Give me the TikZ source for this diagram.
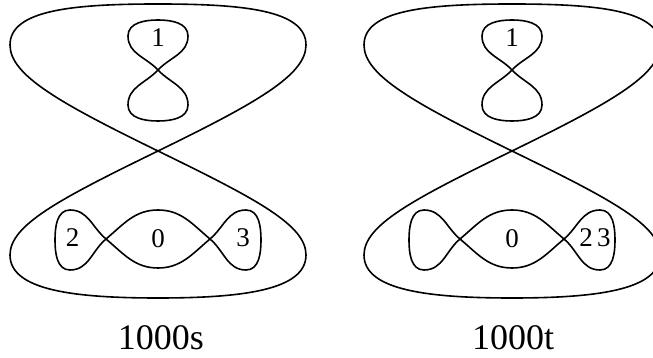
\documentclass[tikz,border=0pt]{standalone}
\usepackage{fontspec}
\setmainfont{Liberation Serif}
\usetikzlibrary{positioning}

\tikzset{
  curve/.style={black, line width=1.6pt, line join=round},
  lbl/.style={inner sep=0pt, font=\fontsize{27}{27}\selectfont},
  caption/.style={inner sep=0pt, anchor=base, font=\fontsize{36}{36}\selectfont}
}

\begin{document}
\begin{tikzpicture}[x=1pt, y=1pt]
\useasboundingbox (0,0) rectangle (653,358);
\clip (0,0) rectangle (653,358);

\foreach \cx in {158,512} {
\begin{scope}[shift={(\cx,207)}]
% big figure eight
\draw[curve] (0,0) .. controls +(26:110) and +(-90:30) .. (148,106)
  .. controls +(90:35) and +(0:85) .. (0,147)
  .. controls +(180:85) and +(90:35) .. (-148,106)
  .. controls +(-90:30) and +(154:110) .. (0,0)
  .. controls +(-26:110) and +(90:30) .. (148,-104)
  .. controls +(-90:35) and +(0:85) .. (0,-147)
  .. controls +(180:85) and +(-90:35) .. (-148,-104)
  .. controls +(90:30) and +(-154:110) .. (0,0);
% small eight in the upper lobe
\draw[curve] (0,81) to[out=47,in=-90] (30,115) to[out=90,in=0] (0,131)
  to[out=180,in=90] (-30,115) to[out=-90,in=133] (0,81)
  to[out=-47,in=90] (30,46) to[out=-90,in=0] (0,30)
  to[out=180,in=-90] (-30,46) to[out=90,in=-133] (0,81);
% chain of three lobes in the lower lobe
\draw[curve] (-52,-88) to[out=40,in=180] (0,-59) to[out=0,in=140] (52,-88)
  to[out=-40,in=180] (88,-119) to[out=0,in=-90] (103,-89)
  to[out=90,in=0] (88,-59) to[out=180,in=40] (52,-88)
  to[out=-140,in=0] (0,-117) to[out=180,in=-40] (-52,-88)
  to[out=140,in=0] (-88,-59) to[out=180,in=90] (-103,-89)
  to[out=-90,in=180] (-88,-119) to[out=0,in=-140] (-52,-88);
\end{scope}
}

% region labels
\node[lbl] (s1) at (158,320) {1};
\node[lbl] (s2) at (72.5,120) {2};
\node[lbl] (s0) at (158,119) {0};
\node[lbl] (s3) at (243,120) {3};
\node[lbl] (t1) at (512,320) {1};
\node[lbl] (t0) at (512,119) {0};
\node[lbl] (t23) at (595,120) {2\,3};

% captions
\node[caption] (caps) at (161,8) {1000s};
\node[caption] (capt) at (513,8) {1000t};
\end{tikzpicture}
\end{document}
